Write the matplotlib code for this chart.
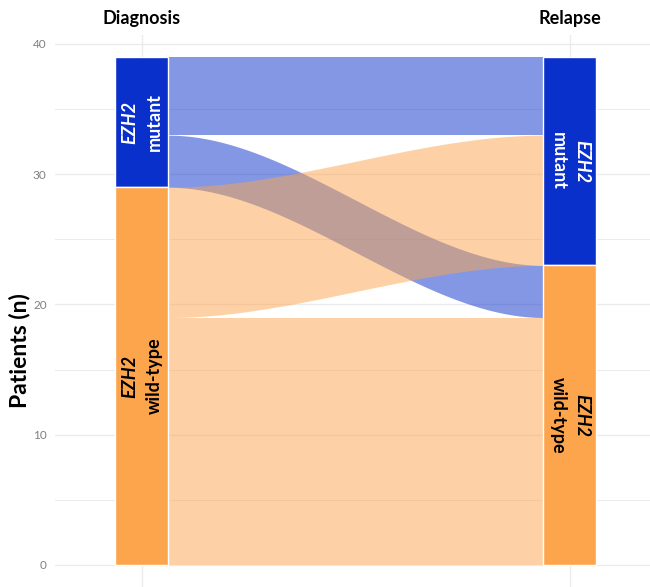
import numpy as np
import matplotlib.pyplot as plt

# data
stages = ["Diagnosis", "Relapse"]
groups = ["mutant", "wild-type"]          # stacked top -> bottom
flow_from = ["mutant", "mutant", "wild-type", "wild-type"]
flow_to = ["mutant", "wild-type", "mutant", "wild-type"]
flow_n = [6, 4, 10, 19]

stratum_col = {"mutant": "#0A30CC", "wild-type": "#FCA54C"}
label_col = {"mutant": "white", "wild-type": "black"}
FONT = ["Lato", "DejaVu Sans"]

total = sum(flow_n)
halfw = 0.062
off = 0.028   # horizontal offset of the two label lines

# stack flow ends on each axis
def stack(primary, secondary):
    pos = {}
    top = total
    for g in groups:
        for h in groups:
            for i in range(len(flow_n)):
                if primary[i] == g and secondary[i] == h:
                    pos[i] = (top - flow_n[i], top)
                    top -= flow_n[i]
    return pos

left_pos = stack(flow_from, flow_to)
right_pos = stack(flow_to, flow_from)

fig = plt.figure(figsize=(6.5, 5.87), dpi=100)
ax = fig.add_axes([55 / 650, 0, 595 / 650, 552 / 587])
ax.set_xlim(0.797, 2.187)
ax.set_ylim(-1.69, 40.69)

# grid
for y in np.arange(0, 41, 5):
    ax.axhline(y, color="#EBEBEB", lw=1.0 if y % 10 == 0 else 0.7, zorder=0)
for x in [1, 2]:
    ax.axvline(x, color="#EBEBEB", lw=1.0, zorder=0)

# flows (blue first, orange on top)
x0, x1 = 1 + halfw, 2 - halfw
xs = np.linspace(x0, x1, 200)
t = (xs - x0) / (x1 - x0)
s = 3 * t**2 - 2 * t**3
for g in groups:
    for i in range(len(flow_n)):
        if flow_from[i] != g:
            continue
        lb, lt = left_pos[i]
        rb, rt = right_pos[i]
        ylo = lb + (rb - lb) * s
        yhi = lt + (rt - lt) * s
        ax.fill_between(xs, ylo, yhi, color=stratum_col[g], alpha=0.5,
                        lw=0, zorder=1)

# strata
for k, (xc, keys) in enumerate([(1, flow_from), (2, flow_to)]):
    top = total
    for g in groups:
        n = sum(flow_n[i] for i in range(len(flow_n)) if keys[i] == g)
        ax.bar(xc, n, bottom=top - n, width=2 * halfw, color=stratum_col[g],
               edgecolor="white", lw=1, zorder=2)
        rot = 90 if k == 0 else 270
        sgn = -1 if k == 0 else 1
        yc = top - n / 2
        ax.text(xc + sgn * off, yc, "EZH2", rotation=rot, ha="center",
                va="center", rotation_mode="anchor", color=label_col[g],
                fontsize=13, fontweight="bold", fontstyle="italic",
                family=FONT, zorder=3)
        ax.text(xc - sgn * off, yc, g, rotation=rot, ha="center",
                va="center", rotation_mode="anchor", color=label_col[g],
                fontsize=13, fontweight="bold", family=FONT, zorder=3)
        top -= n

# stage labels on top
for xc, name in zip([1, 2], stages):
    ax.text(xc, 1.03, name, transform=ax.get_xaxis_transform(),
            ha="center", va="center", fontsize=13, fontweight="bold",
            family=FONT, color="black")

ax.set_xticks([])
ax.set_yticks([0, 10, 20, 30, 40])
ax.tick_params(axis="y", length=0, pad=6, labelsize=8.5, labelcolor="#808080")
for lab in ax.get_yticklabels():
    lab.set_family(FONT)
for sp in ax.spines.values():
    sp.set_visible(False)

fig.text(20 / 650, 1 - 351 / 587, "Patients (n)", rotation=90, ha="center",
         va="center", fontsize=16.5, fontweight="bold", family=FONT)

fig.savefig("out.png", dpi=100)
